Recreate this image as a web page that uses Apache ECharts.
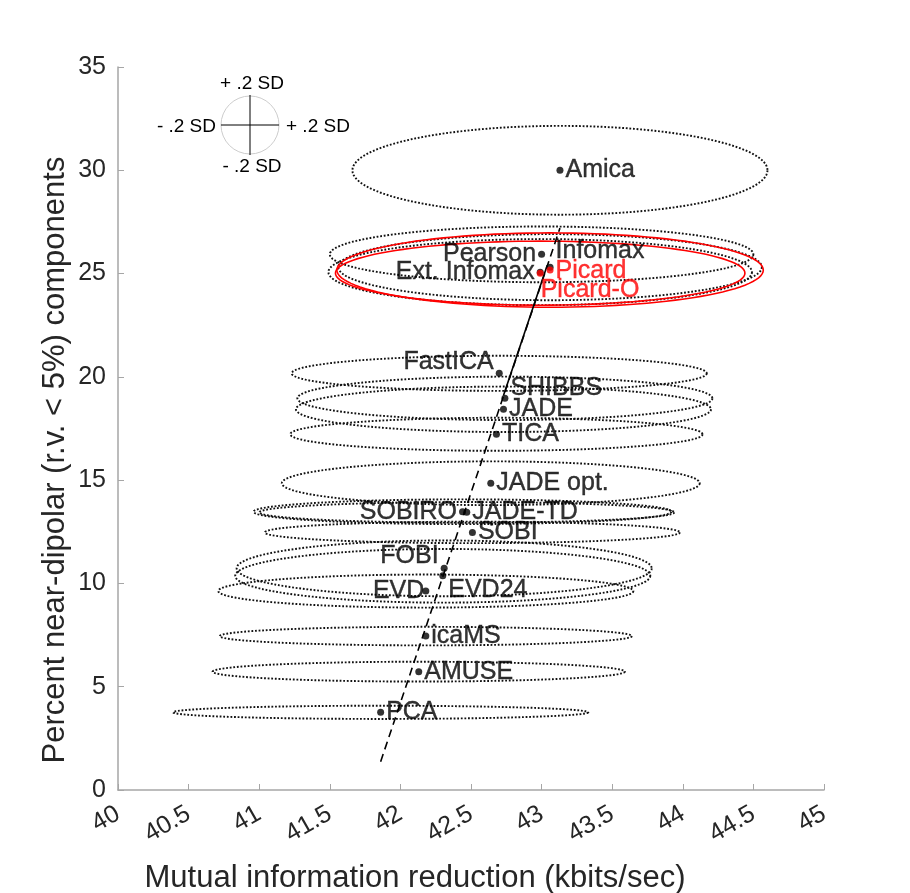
<!DOCTYPE html>
<html>
<head>
<meta charset="utf-8">
<script src="https://cdn.jsdelivr.net/npm/echarts@6/dist/echarts.min.js"></script>
<style>
html, body { margin: 0; background: #fff; }
#chart { width: 910px; height: 893px; }
</style>
</head>
<body>
<div id="chart"></div>
<script>
var methods = ['Amica', 'Pearson', 'Infomax', 'Ext. Infomax', 'Picard', 'Picard-O',
	'FastICA', 'SHIBBS', 'JADE', 'TICA', 'JADE opt.', 'SOBIRO', 'JADE-TD', 'SOBI',
	'FOBI', 'EVD24', 'EVD', 'icaMS', 'AMUSE', 'PCA'];
var miReduction = [43.13, 43.00, 43.06, 42.99, 43.06, 42.99,
	42.70, 42.74, 42.73, 42.68, 42.64, 42.44, 42.47, 42.51,
	42.31, 42.30, 42.18, 42.18, 42.13, 41.86];
var pctDipolar = [30.0, 25.93, 25.31, 25.07, 25.17, 25.02,
	20.17, 18.96, 18.43, 17.22, 14.85, 13.47, 13.44, 12.47,
	10.73, 10.37, 9.63, 7.45, 5.73, 3.76];
// ellipse half widths (x) and half heights (y), .2 SD
var sdX = [1.47, 1.50, 1.50, 1.50, 1.51, 1.45,
	1.47, 1.47, 1.47, 1.46, 1.48, 1.48, 1.47, 1.47,
	1.47, 1.47, 1.47, 1.46, 1.46, 1.47];
var sdY = [2.15, 1.35, 1.6, 1.6, 1.8, 1.55,
	0.85, 1.05, 1.1, 0.8, 1.06, 0.6, 0.5, 0.52,
	1.35, 1.3, 0.8, 0.45, 0.48, 0.32];
var redMethods = ['Picard', 'Picard-O'];
// regression line: dashed full length, solid middle piece
var fitX = [41.86, 43.13];
var fitY = [1.37, 27.2];
var fitSolidX = [42.73, 43.04];
var fitSolidY = [19.1, 25.4];
var xTicks = [40, 45, 0.5];
var yTicks = [0, 35, 5];
var xName = 'Mutual information reduction (kbits/sec)';
var yName = 'Percent near-dipolar (r.v. < 5%) components';

// label side and offset per method
var labelPlace = {
	'Amica': ['right', 0, 0],
	'Pearson': ['left', 0, 0],
	'Infomax': ['right', 0, -16],
	'Ext. Infomax': ['left', 0, 0],
	'Picard': ['right', 0, 1],
	'Picard-O': ['right', -5, 17],
	'FastICA': ['left', 0, -11],
	'SHIBBS': ['right', 0, -10],
	'JADE': ['right', 0, 0],
	'TICA': ['right', 0, 0],
	'JADE opt.': ['right', 0, 0],
	'SOBIRO': ['left', 0, 0],
	'JADE-TD': ['right', 0, 0],
	'SOBI': ['right', 0, 0],
	'FOBI': ['left', 0, -12],
	'EVD24': ['right', 0, 14],
	'EVD': ['left', 4, 0],
	'icaMS': ['right', 0, 0],
	'AMUSE': ['right', 0, 0],
	'PCA': ['right', 0, 0]
};

var FONT = 'Liberation Sans, Arial, Helvetica, sans-serif';

(function() {
	var myChart = echarts.init(document.getElementById('chart'));

	var ellipseData = [];
	var pointData = [];
	for (var i = 0; i < methods.length; i++) {
		var isRed = redMethods.indexOf(methods[i]) >= 0;
		var col = isRed ? '#ff0000' : '#000';
		ellipseData.push({
			value: [miReduction[i], pctDipolar[i], sdX[i], sdY[i]],
			red: isRed
		});
		var lp = labelPlace[methods[i]];
		pointData.push({
			name: methods[i],
			value: [miReduction[i], pctDipolar[i]],
			itemStyle: { color: col },
			label: {
				position: lp[0],
				offset: [lp[1], lp[2]],
				color: col,
				textBorderColor: col,
				textBorderWidth: 0.4
			}
		});
	}

	var option = {
		animation: false,
		grid: { left: 118, right: 86, top: 67, bottom: 103, outerBoundsMode: 'none' },
		xAxis: {
			type: 'value',
			min: xTicks[0], max: xTicks[1], interval: xTicks[2],
			axisLine: { lineStyle: { color: '#a6a6a6', width: 1.5 } },
			axisTick: { inside: true, length: 6, lineStyle: { color: '#a6a6a6' } },
			axisLabel: { rotate: 30, fontSize: 25, color: '#262626', fontFamily: FONT, margin: 22 },
			splitLine: { show: false }
		},
		yAxis: {
			type: 'value',
			min: yTicks[0], max: yTicks[1], interval: yTicks[2],
			axisLine: { show: true, lineStyle: { color: '#a6a6a6', width: 1.5 } },
			axisTick: { show: true, inside: true, length: 6, lineStyle: { color: '#a6a6a6' } },
			axisLabel: { fontSize: 25, color: '#262626', fontFamily: FONT, margin: 12 },
			splitLine: { show: false }
		},
		series: [
			{
				type: 'custom',
				z: 1,
				data: ellipseData,
				renderItem: function(params, api) {
					var c = api.coord([api.value(0), api.value(1)]);
					var s = api.size([api.value(2), api.value(3)]);
					var red = ellipseData[params.dataIndex].red;
					var pts = [];
					for (var k = 0; k < 120; k++) {
						var t = k / 120 * Math.PI * 2;
						pts.push([c[0] + s[0] * Math.cos(t), c[1] + s[1] * Math.sin(t)]);
					}
					return {
						type: 'polygon',
						silent: true,
						shape: { points: pts },
						style: red ? {
							fill: 'none', stroke: '#ff0000', lineWidth: 1.6
						} : {
							fill: 'none', stroke: '#111', lineWidth: 1.9, lineDash: [1.8, 1.8]
						}
					};
				}
			},
			{
				type: 'line',
				z: 2,
				symbol: 'none',
				data: [[fitX[0], fitY[0]], [fitX[1], fitY[1]]],
				lineStyle: { color: '#000', width: 1.6, type: [8, 5] }
			},
			{
				type: 'line',
				z: 2,
				symbol: 'none',
				data: [[fitSolidX[0], fitSolidY[0]], [fitSolidX[1], fitSolidY[1]]],
				lineStyle: { color: '#000', width: 1.6 }
			},
			{
				type: 'scatter',
				z: 3,
				symbolSize: 7,
				data: pointData,
				label: {
					show: true,
					formatter: '{b}',
					distance: 2,
					fontSize: 25,
					fontFamily: FONT
				}
			}
		],
		graphic: [
			{ type: 'text', x: 415, y: 878, style: { text: xName, font: '31px ' + FONT, fill: '#262626', align: 'center', verticalAlign: 'middle' } },
			{ type: 'text', x: 55, y: 460, rotation: Math.PI / 2, style: { text: yName, font: '31px ' + FONT, fill: '#262626', align: 'center', verticalAlign: 'middle' } },
			{ type: 'circle', shape: { cx: 250, cy: 125, r: 29 }, style: { fill: 'none', stroke: '#cccccc', lineWidth: 1 } },
			{ type: 'line', shape: { x1: 221, y1: 125, x2: 279, y2: 125 }, style: { stroke: '#000', lineWidth: 1 } },
			{ type: 'line', shape: { x1: 250, y1: 95, x2: 250, y2: 155 }, style: { stroke: '#000', lineWidth: 1 } },
			{ type: 'text', x: 252, y: 84, style: { text: '+ .2 SD', font: '19px ' + FONT, fill: '#000', align: 'center', verticalAlign: 'middle' } },
			{ type: 'text', x: 216, y: 127, style: { text: '- .2 SD', font: '19px ' + FONT, fill: '#000', align: 'right', verticalAlign: 'middle' } },
			{ type: 'text', x: 286, y: 127, style: { text: '+ .2 SD', font: '19px ' + FONT, fill: '#000', align: 'left', verticalAlign: 'middle' } },
			{ type: 'text', x: 252, y: 167, style: { text: '- .2 SD', font: '19px ' + FONT, fill: '#000', align: 'center', verticalAlign: 'middle' } }
		]
	};

	myChart.setOption(option);

	window.addEventListener('resize', function() {
		myChart.resize();
	});
})();
</script>
</body>
</html>
